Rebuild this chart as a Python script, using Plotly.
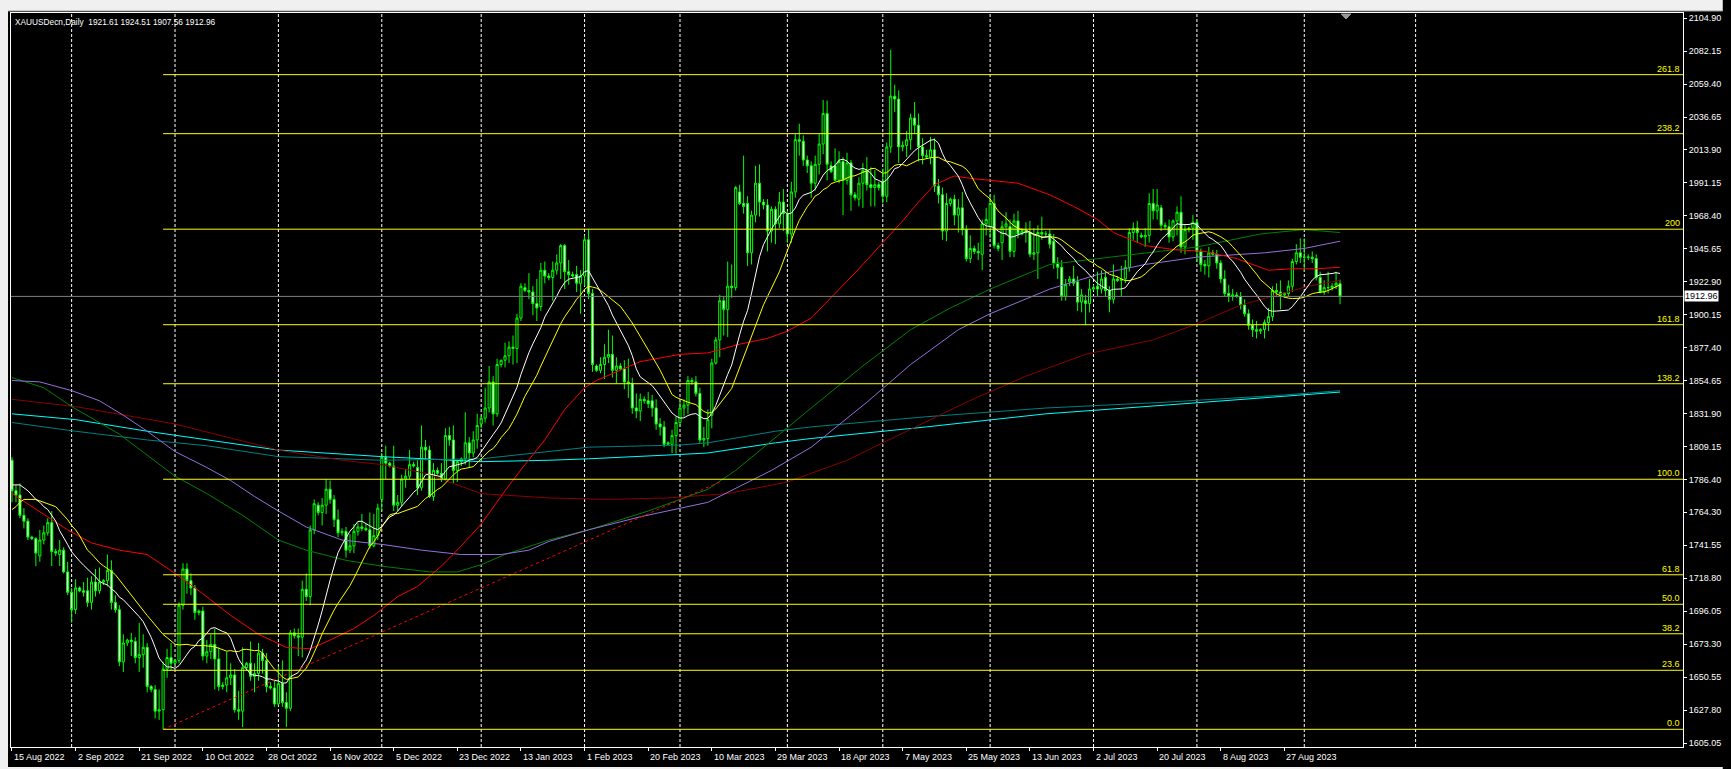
import numpy as np
import pandas as pd
import plotly.graph_objects as go

# ---------------- data ----------------
symbol = "XAUUSDecn"
timeframe = "Daily"
first_date = "2022-08-15"
last_date = "2023-09-12"
holidays = ["2022-12-25", "2023-01-01", "2023-04-07"]

open_ = [
    1800, 1779, 1776, 1762, 1758, 1747, 1746, 1734, 1745, 1750,
    1757, 1737, 1735, 1738, 1723, 1709, 1697, 1712, 1710, 1710,
    1702, 1716, 1710, 1716, 1717, 1724, 1702, 1697, 1661, 1674,
    1676, 1675, 1664, 1666, 1671, 1644, 1642, 1627, 1628, 1656,
    1664, 1660, 1662, 1700, 1725, 1717, 1712, 1695, 1696, 1665,
    1668, 1673, 1663, 1644, 1645, 1650, 1652, 1628, 1627, 1657,
    1660, 1651, 1653, 1667, 1662, 1644, 1643, 1632, 1646, 1633,
    1629, 1681, 1679, 1678, 1711, 1706, 1752, 1769, 1764, 1769,
    1780, 1773, 1759, 1750, 1751, 1738, 1741, 1751, 1754, 1753,
    1752, 1741, 1748, 1773, 1802, 1798, 1796, 1769, 1771, 1787,
    1789, 1797, 1795, 1781, 1809, 1807, 1775, 1793, 1791, 1787,
    1817, 1814, 1793, 1799, 1801, 1812, 1805, 1814, 1825, 1829,
    1836, 1854, 1832, 1866, 1869, 1872, 1878, 1877, 1898, 1919,
    1917, 1916, 1908, 1906, 1931, 1927, 1926, 1931, 1936, 1948,
    1930, 1928, 1928, 1922, 1927, 1952, 1915, 1865, 1862, 1866,
    1871, 1873, 1862, 1865, 1863, 1854, 1853, 1836, 1834, 1842,
    1841, 1841, 1836, 1825, 1823, 1811, 1811, 1817, 1826, 1836,
    1838, 1855, 1854, 1846, 1814, 1815, 1831, 1867, 1883, 1910,
    1904, 1920, 1919, 1985, 1977, 1977, 1943, 1969, 1991, 1978,
    1976, 1958, 1973, 1963, 1978, 1970, 1956, 1985, 2021, 2020,
    2007, 2003, 1991, 2004, 2018, 2039, 2003, 2003, 1993, 2006,
    1993, 2005, 1983, 1980, 1991, 2000, 1990, 1988, 1990, 1992,
    1982, 2016, 2051, 2049, 2016, 2017, 2021, 2036, 2031, 2016,
    2010, 2009, 2014, 1989, 1983, 1958, 1977, 1980, 1969, 1974,
    1959, 1939, 1946, 1944, 1942, 1963, 1961, 1977, 1948, 1950,
    1961, 1961, 1944, 1965, 1956, 1958, 1957, 1942, 1943, 1957,
    1956, 1956, 1951, 1936, 1933, 1913, 1923, 1925, 1923, 1909,
    1910, 1908, 1918, 1920, 1918, 1926, 1917, 1911, 1925, 1924,
    1925, 1933, 1957, 1960, 1955, 1954, 1955, 1977, 1972, 1974,
    1962, 1961, 1954, 1965, 1971, 1947, 1959, 1960, 1964, 1944,
    1935, 1934, 1943, 1942, 1936, 1925, 1915, 1913, 1914, 1913,
    1907, 1901, 1893, 1890, 1889, 1890, 1895, 1899, 1917, 1916,
    1914, 1915, 1920, 1937, 1943, 1940, 1940, 1940, 1939, 1926,
    1916, 1919, 1919, 1920, 1921.61,
]
high = [
    1802, 1783, 1784, 1767, 1760, 1748, 1747, 1752, 1755, 1760,
    1765, 1739, 1745, 1740, 1730, 1712, 1718, 1713, 1716, 1719,
    1720, 1725, 1726, 1718, 1735, 1731, 1707, 1700, 1680, 1677,
    1681, 1678, 1688, 1680, 1674, 1645, 1645, 1642, 1661, 1670,
    1674, 1663, 1702, 1729, 1729, 1722, 1714, 1697, 1699, 1676,
    1680, 1684, 1671, 1647, 1668, 1660, 1656, 1641, 1671, 1661,
    1675, 1660, 1674, 1670, 1667, 1647, 1648, 1658, 1662, 1640,
    1683, 1684, 1684, 1717, 1722, 1755, 1773, 1771, 1774, 1786.9,
    1786, 1776, 1766, 1753, 1754, 1749, 1756, 1757, 1763, 1756,
    1764, 1763, 1770, 1805, 1810, 1799, 1810, 1776, 1790, 1794,
    1807, 1799, 1800, 1824, 1814, 1810, 1798, 1795, 1798, 1822,
    1823, 1824, 1800, 1802, 1833, 1816, 1820, 1832, 1830, 1850,
    1865, 1858, 1870, 1869, 1881, 1882, 1886, 1901, 1922, 1922,
    1929, 1920, 1925, 1936, 1937, 1929, 1937, 1942, 1949, 1949,
    1938, 1930, 1934, 1931, 1955, 1959.4, 1918, 1866, 1871, 1880,
    1890, 1886, 1871, 1867, 1869, 1870, 1857, 1846, 1846, 1844,
    1847, 1845, 1842, 1829, 1827, 1813, 1821, 1830, 1841, 1842,
    1858, 1857, 1858, 1850, 1823, 1835, 1870, 1885, 1914, 1913,
    1937, 1935, 1989, 1990, 2010, 1982, 1972, 2003, 2004, 1980,
    1980, 1975, 1975, 1985, 1987, 1972, 1992, 2025, 2032, 2024,
    2010, 2006, 2010, 2025, 2048.4, 2048, 2006, 2015, 2013, 2009,
    2012, 2007, 1985, 1995, 2005, 2009, 2002, 2000, 1992, 2001,
    2019, 2083, 2059, 2055, 2020, 2027, 2039, 2047, 2039, 2022,
    2014, 2023, 2022, 1994, 1988, 1984, 1981, 1983, 1980, 1985,
    1962, 1955, 1948, 1950, 1966, 1974, 1983, 1983, 1950, 1965,
    1971, 1966, 1970, 1972, 1960, 1964, 1965, 1960, 1962, 1968,
    1958, 1959, 1956, 1940, 1938, 1925, 1927, 1934, 1927, 1918,
    1914, 1925, 1921, 1930, 1931, 1930, 1920, 1935, 1927, 1934,
    1938, 1960, 1964, 1965, 1957, 1960, 1984, 1987, 1987, 1976,
    1964, 1966, 1966, 1975, 1982, 1962, 1961, 1969, 1966, 1946,
    1938, 1947, 1945, 1945, 1938, 1931, 1921, 1918, 1916, 1916,
    1911, 1904, 1897, 1896, 1891, 1897, 1905, 1920, 1922, 1924,
    1916, 1924, 1939, 1949, 1953, 1953, 1942, 1944, 1942, 1930,
    1924, 1930, 1922, 1930, 1924.51,
]
low = [
    1771, 1771, 1760, 1753, 1745, 1745, 1727, 1730, 1742, 1748,
    1727, 1734, 1727, 1722, 1707, 1688, 1694, 1709, 1706, 1699,
    1697, 1706, 1708, 1714, 1713, 1697, 1695, 1658, 1654, 1672,
    1665, 1660, 1654, 1657, 1640, 1640, 1622, 1621, 1614.5, 1650,
    1655, 1659, 1660, 1697, 1708, 1707, 1690, 1693, 1662, 1660,
    1663, 1642, 1641, 1642, 1640, 1645, 1626, 1621, 1616, 1655,
    1648, 1640, 1648, 1653, 1640, 1642, 1630, 1631, 1630, 1616,
    1627, 1677, 1665, 1664, 1703, 1700, 1749, 1762, 1755, 1763,
    1770, 1754, 1747, 1748, 1733, 1736, 1736, 1748, 1751, 1751,
    1739, 1740, 1745, 1765, 1787, 1795, 1765, 1765, 1768, 1781,
    1787, 1795, 1776, 1779, 1800, 1774, 1772, 1790, 1785, 1786,
    1810, 1784, 1785, 1796, 1797, 1795, 1802, 1808, 1822, 1826,
    1833, 1824, 1830, 1864, 1864, 1867, 1866, 1867, 1896, 1916,
    1911, 1900, 1896, 1903, 1922, 1924, 1910, 1928, 1925, 1918,
    1921, 1926, 1916, 1901, 1920, 1911, 1861, 1861, 1860, 1856,
    1867, 1857, 1853, 1862, 1849, 1843, 1832, 1829, 1827, 1839,
    1836, 1830, 1821, 1817, 1809, 1810, 1805, 1804.5, 1823, 1830,
    1832, 1852, 1844, 1812, 1809, 1810, 1822, 1866, 1871, 1886,
    1885, 1912, 1917, 1976, 1970, 1934, 1935, 1964, 1968, 1973,
    1944, 1950, 1949, 1960, 1958, 1950, 1950, 1981, 2010, 2003,
    1998, 1981, 1986, 1997, 2011, 1993, 1998, 1993, 1991, 1969,
    1990, 1972, 1979, 1975, 1974, 1986, 1975, 1975, 1986, 1977,
    1978, 2012, 2040, 2005, 2013, 2009, 2014, 2025, 2006, 2004,
    2008, 2004, 1985, 1977, 1952, 1951, 1975, 1962, 1957, 1955,
    1937, 1936, 1942, 1938, 1931, 1955, 1953, 1946, 1944, 1938,
    1955, 1940, 1940, 1953, 1955, 1950, 1940, 1938, 1925, 1952,
    1954, 1946, 1932, 1925, 1910, 1910, 1920, 1920, 1903, 1902,
    1893, 1902, 1917, 1913, 1915, 1913, 1902, 1908, 1923, 1913,
    1922, 1930, 1952, 1950, 1953, 1947, 1950, 1966, 1966, 1958,
    1959, 1950, 1951, 1955, 1943, 1942, 1957, 1952, 1937, 1930,
    1928, 1926, 1941, 1932, 1922, 1913, 1909, 1910, 1912, 1904,
    1899, 1890, 1885, 1884, 1887, 1884, 1889, 1896, 1913, 1904,
    1912, 1913, 1916, 1935, 1936, 1930, 1938, 1936, 1924, 1915,
    1914, 1915, 1917, 1918, 1907.56,
]
close = [
    1779, 1776, 1762, 1758, 1747, 1746, 1736, 1745, 1750, 1757,
    1737, 1736, 1738, 1723, 1709, 1697, 1712, 1710, 1709, 1702,
    1716, 1710, 1716, 1717, 1724, 1702, 1697, 1661, 1674, 1676,
    1675, 1664, 1666, 1671, 1644, 1642, 1627, 1628, 1656, 1664,
    1660, 1662, 1700, 1725, 1717, 1712, 1695, 1696, 1665, 1668,
    1673, 1663, 1644, 1645, 1650, 1652, 1628, 1627, 1657, 1660,
    1651, 1653, 1667, 1662, 1644, 1643, 1632, 1646, 1633, 1629,
    1681, 1679, 1678, 1711, 1706, 1752, 1770, 1764, 1769, 1780,
    1773, 1759, 1750, 1751, 1738, 1741, 1751, 1754, 1753, 1752,
    1741, 1748, 1767, 1802, 1798, 1796, 1769, 1771, 1787, 1789,
    1797, 1796, 1781, 1809, 1807, 1775, 1793, 1791, 1787, 1817,
    1814, 1793, 1799, 1801, 1812, 1805, 1814, 1824, 1829, 1836,
    1854, 1832, 1866, 1869, 1872, 1878, 1877, 1898, 1920, 1917,
    1916, 1908, 1905, 1931, 1927, 1926, 1931, 1936, 1948, 1930,
    1928, 1927, 1922, 1927, 1952, 1915, 1866, 1862, 1866, 1871,
    1873, 1862, 1865, 1863, 1854, 1853, 1836, 1834, 1842, 1841,
    1839, 1836, 1825, 1823, 1811, 1812, 1817, 1826, 1836, 1838,
    1855, 1854, 1846, 1814, 1815, 1828, 1867, 1883, 1910, 1904,
    1920, 1919, 1988, 1977, 1975, 1943, 1969, 1991, 1978, 1976,
    1958, 1973, 1963, 1978, 1970, 1956, 1985, 2021, 2020, 2007,
    2003, 1991, 2004, 2018, 2039, 2004, 1999, 1993, 2006, 1993,
    2005, 1983, 1981, 1991, 2000, 1990, 1988, 1990, 1988, 1982,
    2016, 2051, 2049, 2016, 2017, 2021, 2036, 2031, 2016, 2010,
    2009, 2014, 1989, 1983, 1958, 1977, 1980, 1969, 1974, 1959,
    1939, 1946, 1944, 1943, 1963, 1966, 1977, 1948, 1946, 1961,
    1963, 1944, 1965, 1956, 1958, 1957, 1942, 1943, 1957, 1956,
    1956, 1949, 1936, 1933, 1913, 1921, 1925, 1922, 1909, 1914,
    1908, 1918, 1919, 1918, 1925, 1917, 1911, 1925, 1924, 1925,
    1933, 1957, 1960, 1957, 1954, 1955, 1977, 1972, 1976, 1962,
    1961, 1954, 1965, 1971, 1947, 1959, 1960, 1964, 1944, 1935,
    1934, 1943, 1942, 1936, 1925, 1915, 1913, 1914, 1913, 1907,
    1901, 1893, 1890, 1889, 1890, 1895, 1899, 1917, 1916, 1914,
    1915, 1920, 1937, 1943, 1940, 1940, 1940, 1939, 1926, 1916,
    1919, 1919, 1920, 1922, 1912.96,
]

# fast moving averages: periods (first bars, before the window fills)
white_period = 13
white_head = [1783, 1783, 1783, 1781, 1779, 1776, 1773, 1771, 1768, 1766, 1762, 1758]
yellow_period = 21
yellow_head = [1766, 1768, 1771, 1773, 1773, 1773, 1773, 1772, 1771, 1770,
               1769, 1768, 1765, 1762, 1759, 1755, 1752, 1748, 1743, 1738]

# slow moving averages (bar index, price)
red_bars = [0, 8, 14, 20, 27, 34, 41, 48, 55, 62, 69, 75, 80, 86, 91, 97, 102, 108, 113, 118,
            124, 129, 134, 139, 144, 147, 158, 168, 175, 183, 190, 195, 201, 207, 213, 219, 224,
            228, 232, 237, 242, 246, 253, 261, 267, 273, 277, 285, 293, 300, 308, 316, 322, 328, 334]
red_vals = [1777, 1763, 1752, 1743, 1738, 1735, 1722, 1708, 1693, 1680, 1671, 1670, 1676, 1684,
            1693, 1706, 1713, 1727, 1741, 1756, 1779, 1797, 1814, 1835, 1850, 1855, 1868, 1873,
            1874, 1880, 1884, 1889, 1898, 1915, 1932, 1950, 1965, 1978, 1990, 1996, 1994, 1993,
            1991, 1983, 1975, 1966, 1957, 1948, 1945, 1944, 1939, 1931, 1932, 1932, 1933]
darkred_bars = [0, 16, 41, 67, 83, 93, 104, 112, 118, 135, 150, 165, 180, 195, 210, 225, 240,
                255, 270, 287, 298, 309, 317, 326, 334]
darkred_vals = [1842, 1837, 1825, 1807, 1800, 1797, 1791, 1783, 1777, 1774, 1773, 1774, 1777,
                1785, 1800, 1820, 1840, 1858, 1873, 1883, 1894, 1907, 1913, 1920, 1924]
green_bars = [0, 8, 15, 27, 41, 49, 58, 67, 74, 84, 93, 105, 112, 118, 124, 135, 145, 160, 175,
              182, 201, 214, 226, 236, 246, 261, 273, 285, 298, 314, 325, 334]
green_vals = [1857, 1850, 1837, 1818, 1789, 1777, 1762, 1745, 1738, 1731, 1727, 1723, 1723, 1728,
              1735, 1745, 1752, 1765, 1780, 1793, 1836, 1865, 1890, 1905, 1918, 1935, 1939, 1943,
              1947, 1956, 1959, 1957]
purple_bars = [0, 7, 15, 22, 28, 34, 41, 49, 55, 61, 67, 74, 83, 93, 103, 113, 123, 130, 135, 145,
               158, 175, 191, 201, 215, 226, 238, 246, 261, 273, 285, 298, 315, 325, 334]
purple_vals = [1855, 1854, 1848, 1841, 1831, 1820, 1806, 1795, 1786, 1775, 1765, 1754, 1745, 1742,
               1738, 1735, 1735, 1738, 1744, 1752, 1761, 1771, 1793, 1809, 1840, 1866, 1890, 1901,
               1918, 1928, 1935, 1940, 1943, 1946, 1951]
cyan_bars = [0, 16, 34, 49, 67, 93, 118, 135, 145, 168, 175, 192, 201, 230, 260, 290, 320, 334]
cyan_vals = [1832, 1828, 1820, 1814, 1807, 1802.5, 1799, 1800, 1801, 1804, 1805, 1812, 1815,
             1823, 1832, 1838, 1844, 1847]
teal_bars = [0, 16, 34, 49, 67, 93, 118, 135, 145, 168, 175, 192, 201, 230, 260, 290, 320, 334]
teal_vals = [1826, 1820, 1814, 1810, 1802.5, 1800, 1801, 1806, 1809, 1810.5, 1812, 1820, 1823,
             1830, 1836, 1840, 1845, 1848]

# trend line (dotted red) from the September low
trend_bars = [38, 178]
trend_vals = [1614.5, 1785.0]

# Fibonacci expansion
fib_start_bar = 38
fib_low = 1614.5
fib_high = 1786.9
fib_ratios = [0.0, 0.236, 0.382, 0.5, 0.618, 1.0, 1.382, 1.618, 2.0, 2.382, 2.618]
fib_labels = ["0.0", "23.6", "38.2", "50.0", "61.8", "100.0", "138.2", "161.8", "200", "238.2", "261.8"]

price_ticks = ["2104.90", "2082.15", "2059.40", "2036.65", "2013.90", "1991.15", "1968.40",
               "1945.65", "1922.90", "1900.15", "1877.40", "1854.65", "1831.90", "1809.15",
               "1786.40", "1764.30", "1741.55", "1718.80", "1696.05", "1673.30", "1650.55",
               "1627.80", "1605.05"]
label_every = 16
future_separators = 1

# ---------------- derived ----------------
dates = pd.bdate_range(first_date, last_date, freq="C",
                       weekmask="Sun Mon Tue Wed Thu Fri", holidays=holidays)
n = min(len(dates), len(close))
idx = list(range(n))
dates = dates[:n]

closes = pd.Series(close[:n], dtype=float)
white = closes.rolling(white_period).mean().to_numpy()
white[:len(white_head)] = white_head
yellow = closes.rolling(yellow_period).mean().to_numpy()
yellow[:len(yellow_head)] = yellow_head

X_MIN, X_MAX = -0.25, 420.25
Y_MIN, Y_MAX = 1602.3, 2108.35

label_bars = list(range(0, n, label_every))
label_text = [f"{dates[i].day} {dates[i].strftime('%b %Y')}" for i in label_bars]

month_bars = [i for i in range(1, n) if dates[i].month != dates[i - 1].month]
last = dates[n - 1]
m = pd.Timestamp(year=last.year, month=last.month, day=1) + pd.offsets.MonthBegin(1)
for _ in range(future_separators):
    month_bars.append((n - 1) + (m - last).days)
    m = m + pd.offsets.MonthBegin(1)

FONT = "Liberation Sans"
FS = 9
FS_TITLE = 8.3

fig = go.Figure()

fig.add_trace(go.Candlestick(
    x=idx, open=open_[:n], high=high[:n], low=low[:n], close=close[:n],
    increasing=dict(line=dict(color="#00ff00", width=1), fillcolor="#000000"),
    decreasing=dict(line=dict(color="#00ff00", width=1), fillcolor="#ffffff"),
    whiskerwidth=0, hoverinfo="skip", showlegend=False))

def add_line(xs, ys, color, dash=None):
    fig.add_trace(go.Scatter(x=xs, y=ys, mode="lines",
                             line=dict(color=color, width=1, dash=dash),
                             hoverinfo="skip", showlegend=False))

add_line(cyan_bars, cyan_vals, "#00ffff")
add_line(teal_bars, teal_vals, "#008080")
add_line(darkred_bars, darkred_vals, "#8b0000")
add_line(green_bars, green_vals, "#008000")
add_line(purple_bars, purple_vals, "#9370db")
add_line(red_bars, red_vals, "#ff0000")
add_line(idx, yellow, "#ffff00")
add_line(idx, white, "#ffffff")
add_line(trend_bars, trend_vals, "#ff0000", dash="dot")

shapes = []
for b in month_bars:
    shapes.append(dict(type="line", xref="x", yref="paper", x0=b, x1=b, y0=0, y1=1,
                       line=dict(color="white", width=1, dash="3px,2px"), layer="below"))
annotations = []
for r, lab in zip(fib_ratios, fib_labels):
    lvl = fib_low + r * (fib_high - fib_low)
    shapes.append(dict(type="line", xref="x", yref="y", x0=fib_start_bar, x1=X_MAX,
                       y0=lvl, y1=lvl, line=dict(color="#ffff00", width=1)))
    annotations.append(dict(xref="paper", yref="y", x=1, y=lvl, text=lab, showarrow=False,
                            xanchor="right", yanchor="bottom", xshift=-1, yshift=-1,
                            font=dict(family=FONT, size=FS, color="#ffff00")))
shapes.append(dict(type="line", xref="paper", yref="y", x0=0, x1=1,
                   y0=close[n - 1], y1=close[n - 1], line=dict(color="#808080", width=1)))
pw, ph = 1731 - 10 - 39, 769 - 13 - 22
shapes.append(dict(type="rect", xref="paper", yref="paper", x0=-10 / pw - 0.01, x1=1 + 40 / pw,
                   y0=1 + 2 / ph, y1=1 + 14 / ph, fillcolor="#f0f0f0", line=dict(width=0), layer="above"))
shapes.append(dict(type="line", xref="paper", yref="paper", x0=-10 / pw - 0.01, x1=1 + 40 / pw,
                   y0=1 + 2 / ph, y1=1 + 2 / ph, line=dict(color="#a0a0a0", width=1)))
shapes.append(dict(type="rect", xref="paper", yref="paper", x0=-10 / pw - 0.01, x1=-3 / pw,
                   y0=-30 / ph, y1=1 + 14 / ph, fillcolor="#f0f0f0", line=dict(width=0), layer="above"))
shapes.append(dict(type="rect", xref="paper", yref="paper", x0=-10 / pw - 0.01, x1=1 + 40 / pw,
                   y0=-30 / ph, y1=-20 / ph, fillcolor="#f0f0f0", line=dict(width=0), layer="above"))
sx = n + 0.5
shapes.append(dict(type="path", xref="x", yref="paper",
                   path=f"M {sx-1.2},{1-1/ph} L {sx+1.2},{1-1/ph} L {sx},{1-6/ph} Z",
                   fillcolor="#9a9a9a", line=dict(color="#9a9a9a", width=1)))

annotations.append(dict(xref="paper", yref="paper", x=0, y=1, xanchor="left", yanchor="top",
                        xshift=2, yshift=-2, showarrow=False,
                        text=f"{symbol},{timeframe}\u00a0\u00a0{open_[n-1]:.2f} {high[n-1]:.2f} "
                             f"{low[n-1]:.2f} {close[n-1]:.2f}",
                        font=dict(family=FONT, size=FS_TITLE, color="white")))
annotations.append(dict(xref="paper", yref="y", x=1, y=close[n - 1], xanchor="left",
                        yanchor="middle", xshift=1, showarrow=False, text=f"{close[n-1]:.2f}",
                        bgcolor="white", borderpad=0,
                        font=dict(family=FONT, size=FS, color="black")))
for b, t in zip(label_bars, label_text):
    annotations.append(dict(xref="x", yref="paper", x=b, y=0, xanchor="left", yanchor="top",
                            xshift=0, yshift=-3, showarrow=False, text=t,
                            font=dict(family=FONT, size=FS, color="white")))

fig.update_layout(
    width=1731, height=769,
    margin=dict(l=10, r=39, t=13, b=22, pad=0),
    paper_bgcolor="black", plot_bgcolor="black", showlegend=False,
    hovermode=False, dragmode=False, boxgap=0.25,
    font=dict(family=FONT, size=FS, color="white"),
    xaxis=dict(range=[X_MIN, X_MAX], showgrid=False, zeroline=False, showline=True,
               linecolor="white", linewidth=1, mirror=True, ticks="outside", ticklen=3,
               tickcolor="white", tickvals=label_bars, showticklabels=False,
               rangeslider=dict(visible=False), fixedrange=True),
    yaxis=dict(range=[Y_MIN, Y_MAX], side="right", showgrid=False, zeroline=False,
               showline=True, linecolor="white", linewidth=1, mirror=True, ticks="outside",
               ticklen=3, tickcolor="white", tickvals=[float(t) for t in price_ticks],
               ticktext=price_ticks, tickfont=dict(family=FONT, size=FS, color="white"),
               fixedrange=True),
    shapes=shapes, annotations=annotations,
)

fig.write_html(
    "out.html",
    config={"displayModeBar": False, "staticPlot": True},
    post_script="document.body.style.margin='0';document.body.style.padding='0';"
                "document.body.style.overflow='hidden';document.body.style.background='black';",
)
